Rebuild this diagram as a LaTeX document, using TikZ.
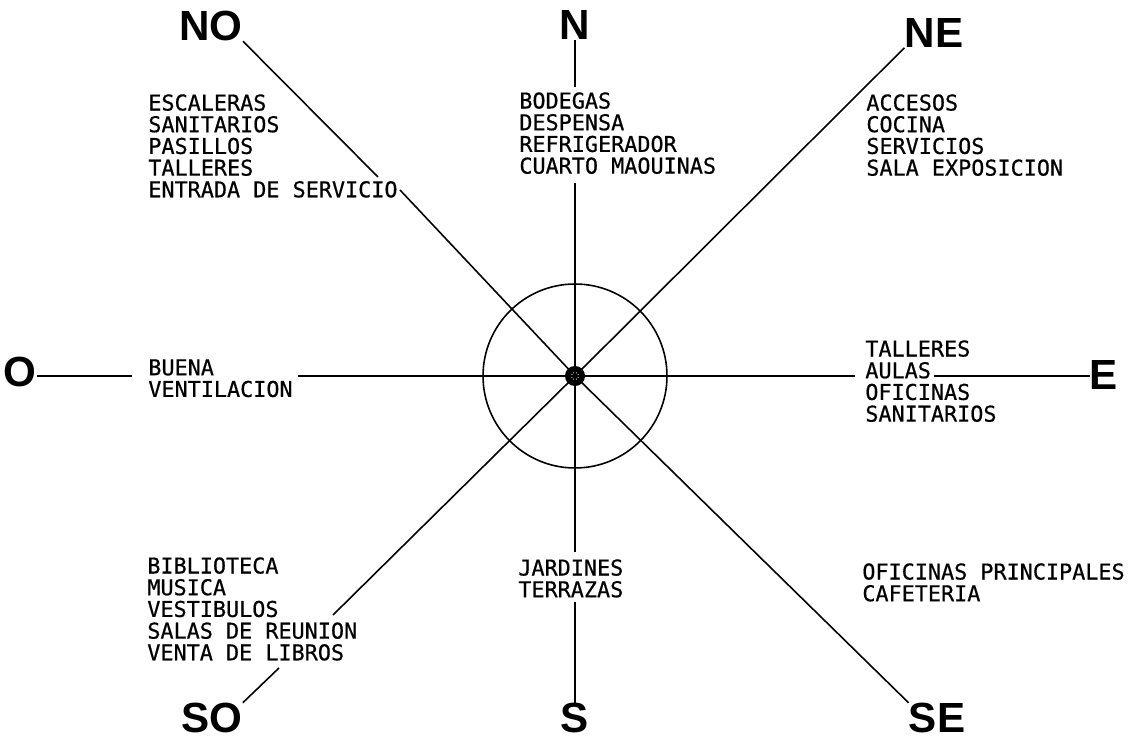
\documentclass[tikz,border=0pt]{standalone}
\usepackage{fontspec}
\newfontfamily\dirfont{Liberation Sans}
\newfontfamily\listfont[FakeBold=0.6]{DejaVu Sans Mono}
\begin{document}
\begin{tikzpicture}[x=0.02cm, y=-0.02cm, ln/.style={line width=0.9pt}, dir/.style={font=\dirfont\bfseries\fontsize{24}{24}\selectfont, inner sep=0pt}, lst/.style={font=\listfont\fontsize{12.4}{12.35}\selectfont, align=left, anchor=north west, inner sep=0pt}]
	\useasboundingbox (0,0) rectangle (1129,742);
	\coordinate (c) at (575,376);
	% puntos cardinales
	\node[dir] (no) at (211,26) {NO};
	\node[dir] (n) at (575,25) {N};
	\node[dir] (ne) at (934,33) {NE};
	\node[dir] (o) at (20,372) {O};
	\node[dir] (e) at (1104,375) {E};
	\node[dir] (so) at (212,718) {SO};
	\node[dir] (s) at (575,718) {S};
	\node[dir] (se) at (937,718) {SE};
	% listas de locales
	\node[lst] (lno) at (148,94) {ESCALERAS\\SANITARIOS\\PASILLOS\\TALLERES\\ENTRADA DE SERVICIO};
	\node[lst] (ln) at (519,92) {BODEGAS\\DESPENSA\\REFRIGERADOR\\CUARTO MAOUINAS};
	\node[lst] (lne) at (866,94) {ACCESOS\\COCINA\\SERVICIOS\\SALA EXPOSICION};
	\node[lst] (lo) at (148,359) {BUENA\\VENTILACION};
	\node[lst] (le) at (865,340) {TALLERES\\AULAS\\OFICINAS\\SANITARIOS};
	\node[lst] (lso) at (147,557) {BIBLIOTECA\\MUSICA\\VESTIBULOS\\SALAS DE REUNION\\VENTA DE LIBROS};
	\node[lst] (ls) at (518,559) {JARDINES\\TERRAZAS};
	\node[lst] (lse) at (862,563) {OFICINAS PRINCIPALES\\CAFETERIA};
	% cortes de las lineas
	\coordinate (no1) at (378,177);
	\coordinate (no2) at (400,190);
	\coordinate (n1) at (575,87);
	\coordinate (n2) at (575,183);
	\coordinate (s1) at (575,552);
	\coordinate (s2) at (575,602);
	\coordinate (o1) at (132,376);
	\coordinate (o2) at (298,376);
	\coordinate (e1) at (855,376);
	\coordinate (e2) at (934,376);
	\coordinate (so1) at (333,615);
	\coordinate (so2) at (279,668);
	% rosa
	\draw[ln] (no.south east) -- (no1);
	\draw[ln] (no2) -- (c);
	\draw[ln] (n) -- (n1);
	\draw[ln] (n2) -- (c) -- (s1);
	\draw[ln] (s2) -- (s);
	\draw[ln] (ne.south west) -- (c);
	\draw[ln] (o.east |- c) -- (o1);
	\draw[ln] (o2) -- (c) -- (e1);
	\draw[ln] (e2) -- (e.west |- e2);
	\draw[ln] (c) -- (so1);
	\draw[ln] (so2) -- (so.north east);
	\draw[ln] (c) -- (se.north west);
	\draw[ln] (c) circle[radius=1.84cm];
	\draw[line width=3.4pt] (c) circle[radius=0.14cm];
\end{tikzpicture}
\end{document}
